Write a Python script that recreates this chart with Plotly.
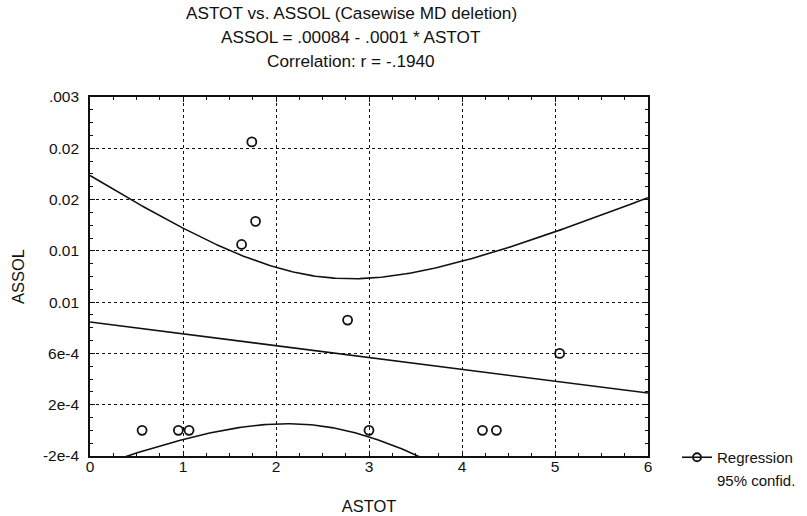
import numpy as np
import plotly.graph_objects as go

# ---- data ----
astot = [0.56, 0.95, 1.065, 3.0, 4.22, 4.37, 2.77, 5.05, 1.74, 1.78, 1.63]
assol = [0.0, 0.0, 0.0, 0.0, 0.0, 0.0, 0.00086, 0.0006, 0.00225, 0.00163, 0.00145]

y_tickvals = [-0.0002, 0.0002, 0.0006, 0.0010, 0.0014, 0.0018, 0.0022, 0.0026]
y_ticktext = ["-2e-4", "2e-4", "6e-4", "0.01", "0.01", "0.02", "0.02", ".003"]
x_tickvals = [0, 1, 2, 3, 4, 5, 6]

title_lines = ["ASTOT vs. ASSOL (Casewise MD deletion)",
               "ASSOL = .00084 - .0001 * ASTOT",
               "Correlation: r = -.1940"]

T_CRIT = 2.262  # t(0.975, df = n-2 = 9)

# ---- linear regression with 95% confidence band ----
x = np.array(astot)
y = np.array(assol)
n = len(x)
xbar, ybar = x.mean(), y.mean()
sxx = ((x - xbar) ** 2).sum()
sxy = ((x - xbar) * (y - ybar)).sum()
b = sxy / sxx
a = ybar - b * xbar
resid = y - (a + b * x)
s = np.sqrt((resid ** 2).sum() / (n - 2))
xg = np.linspace(0, 6, 241)
yg = a + b * xg
hw = T_CRIT * s * np.sqrt(1 / n + (xg - xbar) ** 2 / sxx)

FONT = "Liberation Sans, Arial, sans-serif"
BLACK = "#111111"

fig = go.Figure()
fig.add_trace(go.Scatter(x=xg, y=yg + hw, mode="lines", line=dict(color=BLACK, width=1.6),
                         showlegend=False, hoverinfo="skip"))
fig.add_trace(go.Scatter(x=xg, y=yg - hw, mode="lines", line=dict(color=BLACK, width=1.6),
                         showlegend=False, hoverinfo="skip"))
fig.add_trace(go.Scatter(x=xg, y=yg, mode="lines", line=dict(color=BLACK, width=1.6),
                         showlegend=False))
fig.add_trace(go.Scatter(x=astot, y=assol, mode="markers",
                         marker=dict(symbol="circle-open", size=9, color=BLACK,
                                     line=dict(width=1.8, color=BLACK)),
                         showlegend=False, cliponaxis=False))
# legend entries
fig.add_trace(go.Scatter(x=[None], y=[None], mode="lines+markers", name="Regression",
                         line=dict(color=BLACK, width=1.6),
                         marker=dict(symbol="circle-open", size=8, color=BLACK,
                                     line=dict(width=1.8, color=BLACK))))
fig.add_trace(go.Scatter(x=[None], y=[None], mode="lines", name="95% confid.",
                         line=dict(color="rgba(0,0,0,0)", width=1)))

L, R, T, B = 90, 159, 97, 60
W, H = 807, 516
pw, ph = W - L - R, H - T - B

def px_x(px):
    return (px - L) / pw

def px_y(py):
    return (H - B - py) / ph

for txt, py in zip(title_lines, [13, 37, 61]):
    fig.add_annotation(text=txt, x=px_x(351), y=px_y(py), xref="paper", yref="paper",
                       showarrow=False, xanchor="center", yanchor="middle",
                       font=dict(family=FONT, size=17.2, color=BLACK))

axis_common = dict(showline=True, linecolor=BLACK, linewidth=1.6, mirror="allticks",
                   ticks="inside", ticklen=5, tickcolor=BLACK, tickwidth=1,
                   showgrid=True, gridcolor=BLACK, griddash="dot", gridwidth=1,
                   zeroline=False, automargin=False,
                   tickfont=dict(family=FONT, size=15.5, color=BLACK))

fig.update_layout(
    width=W, height=H,
    margin=dict(l=L, r=R, t=T, b=B, autoexpand=False),
    paper_bgcolor="white", plot_bgcolor="white",
    xaxis=dict(range=[0, 6], tickvals=x_tickvals, ticklabelstandoff=-4,
               minor=dict(dtick=0.25, ticks="inside", ticklen=3, tickcolor=BLACK, showgrid=False),
               title=dict(text="ASTOT", font=dict(family=FONT, size=16.5, color=BLACK), standoff=26),
               **axis_common),
    yaxis=dict(range=[-0.0002, 0.0026], tickvals=y_tickvals, ticktext=y_ticktext,
               ticklabelstandoff=6,
               minor=dict(dtick=0.0001, tick0=-0.0002, ticks="inside", ticklen=3, tickcolor=BLACK, showgrid=False),
               title=dict(text="ASSOL", font=dict(family=FONT, size=16.5, color=BLACK), standoff=14),
               **axis_common),
    legend=dict(x=px_x(677), y=px_y(441), xanchor="left", yanchor="top",
                font=dict(family=FONT, size=15, color=BLACK), bgcolor="rgba(0,0,0,0)",
                tracegroupgap=0, itemwidth=30),
    showlegend=True,
)

fig.write_html("out.html")
